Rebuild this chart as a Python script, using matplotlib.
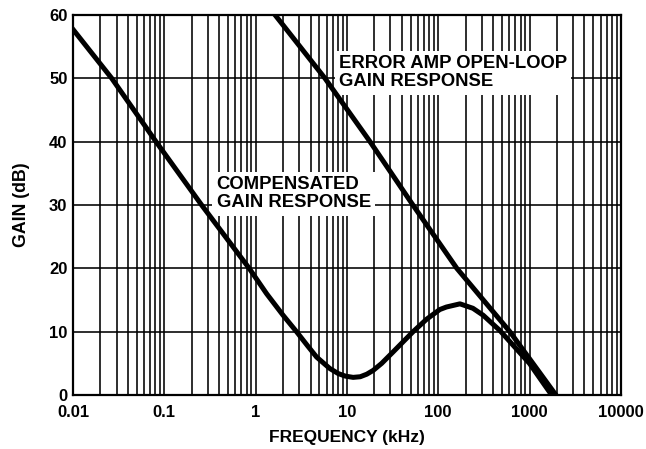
import numpy as np
import matplotlib.pyplot as plt
from matplotlib.ticker import LogLocator, FixedLocator, NullFormatter

plt.rcParams['font.family'] = ['Liberation Sans', 'DejaVu Sans']
plt.rcParams['font.weight'] = 'bold'

# -------------------
# Data
# -------------------
comp_freq = [0.01, 0.0265, 0.081, 0.256, 0.851, 1.32, 2.0, 2.81, 3.7, 4.66, 6.5, 8.04, 9.6, 11.7,
             14.0, 16.5, 19.4, 24, 32, 53, 75, 104, 123, 173, 240, 311, 473, 1000, 1750]
comp_gain = [57.7, 50, 40, 30, 20, 16.0, 12.6, 10, 7.8, 6.0, 4.2, 3.4, 3.0, 2.8,
             2.9, 3.3, 3.9, 5.0, 6.8, 10, 12.0, 13.5, 13.9, 14.4, 13.7, 12.6, 10.2, 5.0, 0]

open_freq = [1.63, 5.74, 17.9, 52.8, 160, 610, 1950]
open_gain = [60, 50, 40, 30, 20, 10, 0]

x_ticks = [0.01, 0.1, 1, 10, 100, 1000, 10000]
x_labels = ["0.01", "0.1", "1", "10", "100", "1000", "10000"]
y_ticks = [0, 10, 20, 30, 40, 50, 60]

fig = plt.figure(figsize=(6.46, 4.49), dpi=100)
ax = fig.add_axes([0.113, 0.120, 0.848, 0.847])

ax.plot(comp_freq, comp_gain, color="black", lw=3.6, zorder=4, solid_joinstyle="round")
ax.plot(open_freq, open_gain, color="black", lw=3.6, zorder=4, solid_joinstyle="round")

ax.set_xscale("log")
ax.set_xlim(0.01, 10000)
ax.set_ylim(0, 60)

ax.xaxis.set_major_locator(FixedLocator(x_ticks))
ax.set_xticklabels(x_labels)
ax.xaxis.set_minor_locator(LogLocator(base=10, subs=np.arange(2, 10), numticks=20))
ax.xaxis.set_minor_formatter(NullFormatter())
ax.set_yticks(y_ticks)

ax.grid(True, which="both", axis="x", color="black", lw=1.15)
ax.grid(True, which="major", axis="y", color="black", lw=1.15)
ax.set_axisbelow(True)

ax.tick_params(which="both", length=0, labelsize=12)
ax.tick_params(axis="x", pad=7)
ax.tick_params(axis="y", pad=4)
for lab in ax.get_xticklabels() + ax.get_yticklabels():
    lab.set_fontweight("bold")

for s in ax.spines.values():
    s.set_linewidth(1.6)
    s.set_color("black")

ax.set_xlabel("FREQUENCY (kHz)", fontsize=12.5, fontweight="bold", labelpad=7)
ax.set_ylabel("GAIN (dB)", fontsize=12.8, fontweight="bold", labelpad=14)

box = dict(facecolor="white", edgecolor="none", pad=3)
ax.text(8.17, 53.6, "ERROR AMP OPEN-LOOP\nGAIN RESPONSE", fontsize=13.3, fontweight="bold",
        va="top", ha="left", bbox=box, zorder=3, linespacing=1.08)
ax.text(0.374, 34.5, "COMPENSATED\nGAIN RESPONSE", fontsize=13.3, fontweight="bold",
        va="top", ha="left", bbox=box, zorder=3, linespacing=1.08)

fig.savefig("out.png", dpi=100)
